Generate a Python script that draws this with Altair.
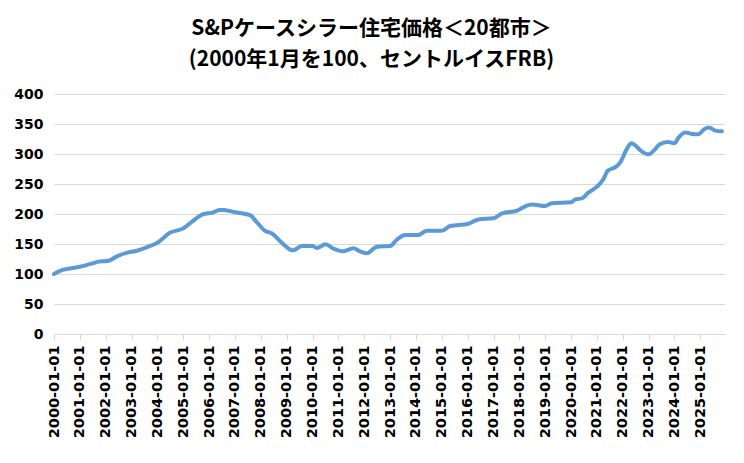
import altair as alt
import pandas as pd

months = [
    "2000-01", "2000-05", "2001-01", "2001-07", "2001-10", "2002-02", "2002-06", "2002-11",
    "2003-03", "2003-08", "2004-01", "2004-07", "2005-01", "2005-05", "2005-10", "2006-03",
    "2006-06", "2006-08", "2007-01", "2007-08", "2007-11", "2008-03", "2008-06", "2008-11",
    "2009-03", "2009-04", "2009-08", "2010-01", "2010-03", "2010-07", "2010-11", "2011-03",
    "2011-08", "2011-11", "2012-02", "2012-07", "2013-01", "2013-04", "2013-08", "2014-02",
    "2014-06", "2015-01", "2015-05", "2016-01", "2016-06", "2017-01", "2017-05", "2017-12",
    "2018-04", "2018-07", "2019-01", "2019-04", "2020-01", "2020-03", "2020-06", "2020-09",
    "2021-01", "2021-04", "2021-06", "2021-10", "2021-12", "2022-03", "2022-05", "2022-07",
    "2022-09", "2023-01", "2023-04", "2023-06", "2023-10", "2024-01", "2024-03", "2024-06",
    "2024-09", "2024-12", "2025-03", "2025-05", "2025-08", "2025-11",
]
index_values = [
    100.0, 106.7, 112.0, 117.8, 121.0, 121.7, 129.0, 135.6,
    138.3, 144.4, 152.0, 169.0, 176.0, 187.0, 199.4, 202.8,
    206.7, 206.5, 203.0, 198.0, 187.0, 172.0, 167.8, 151.0,
    140.0, 139.4, 146.7, 146.7, 143.3, 149.4, 142.0, 137.8,
    142.8, 137.8, 134.4, 145.6, 146.7, 156.7, 165.0, 165.0,
    172.2, 172.2, 180.0, 183.3, 191.0, 192.8, 201.0, 205.6,
    213.3, 216.0, 213.3, 217.8, 219.4, 224.4, 226.0, 235.6,
    245.6, 257.8, 272.0, 279.0, 287.0, 309.0, 318.0, 314.0,
    306.7, 299.4, 307.8, 316.0, 320.0, 317.8, 327.8, 336.0,
    333.3, 332.8, 341.7, 344.0, 339.0, 337.8,
]
tick_years = list(range(2000, 2026))
y_ticks = [0, 50, 100, 150, 200, 250, 300, 350, 400]
title_lines = ["S&Pケースシラー住宅価格＜20都市＞", "(2000年1月を100、セントルイスFRB)"]

df = pd.DataFrame({"date": [m + "-01" for m in months], "value": index_values})

x_axis = alt.Axis(
    values=[alt.DateTime(year=y, month=1, date=1, utc=True) for y in tick_years],
    labelExpr="utcFormat(datum.value, '%Y-%m-%d')",
    labelAngle=-90,
    labelFont="DejaVu Sans",
    labelFontWeight="bold",
    labelFontSize=14.5,
    labelColor="#000000",
    labelPadding=5,
    tickColor="#d9d9d9",
    tickSize=6,
    domainColor="#d9d9d9",
    domainWidth=1,
    grid=False,
    title=None,
    labelOverlap=False,
)
y_axis = alt.Axis(
    values=y_ticks,
    labelFont="DejaVu Sans",
    labelFontWeight="bold",
    labelFontSize=14,
    labelColor="#000000",
    labelPadding=11,
    ticks=False,
    domain=False,
    gridColor="#d9d9d9",
    gridWidth=1,
    title=None,
)

chart = (
    alt.Chart(df)
    .mark_line(color="#5B9BD5", strokeWidth=4, interpolate="monotone", strokeCap="round", strokeJoin="round")
    .encode(
        x=alt.X("date:T", scale=alt.Scale(type="utc", domain=[
            alt.DateTime(year=2000, month=1, date=1, utc=True),
            alt.DateTime(year=2025, month=12, date=15, utc=True),
        ]), axis=x_axis),
        y=alt.Y("value:Q", scale=alt.Scale(domain=[0, 400], nice=False), axis=y_axis),
    )
    .properties(
        width=671,
        height=240,
        autosize=alt.AutoSizeParams(type="none"),
        padding={"left": 46, "top": 86, "right": 11, "bottom": 121},
        title=alt.TitleParams(
            text=title_lines,
            font="Noto Sans CJK JP",
            fontWeight="bold",
            fontSize=21,
            lineHeight=31,
            color="#000000",
            anchor="middle",
            dx=-18,
            offset=17,
        ),
        background="#ffffff",
    )
    .configure_view(stroke=None)
)

chart.save("out.html", embed_options={"renderer": "svg", "actions": False})
